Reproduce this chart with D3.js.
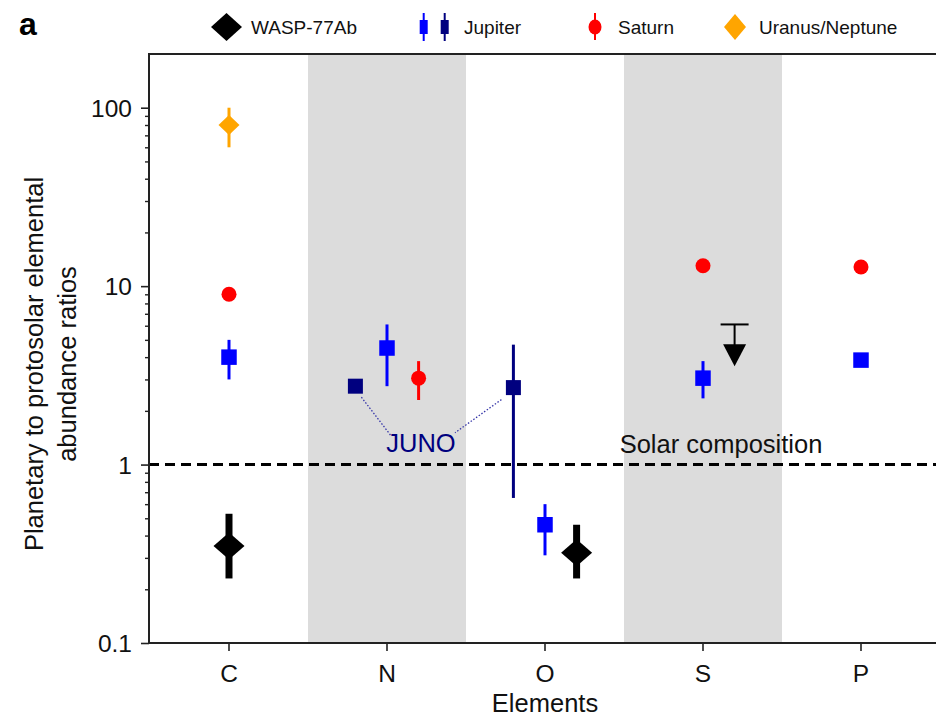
<!DOCTYPE html>
<html>
<head>
<meta charset="utf-8">
<script src="https://cdn.jsdelivr.net/npm/d3@7"></script>
<style>
  body { margin: 0; background: #fff; }
  svg { display: block; font-family: "Liberation Sans", Arial, Helvetica, sans-serif; }
</style>
</head>
<body>
<svg id="chart" width="936" height="716"></svg>
<script>
// ---- data ----
const elements = ["C", "N", "O", "S", "P"];
const shadedElements = ["N", "S"];
const yTickValues = [0.1, 1, 10, 100];
const yTickLabels = ["0.1", "1", "10", "100"];
const solarValue = 1;

// planetary / protosolar ratios: value, lower and upper bound
const wasp77Ab = [
  { el: "C", v: 0.35, lo: 0.23, hi: 0.53 },
  { el: "O", v: 0.32, lo: 0.23, hi: 0.46 }
];
const wasp77AbLimit = [
  { el: "S", v: 4.1, hi: 6.1 }
];
const jupiter = [
  { el: "C", v: 4.0, lo: 3.0, hi: 5.0 },
  { el: "N", v: 4.5, lo: 2.75, hi: 6.1 },
  { el: "O", v: 0.46, lo: 0.31, hi: 0.60 },
  { el: "S", v: 3.05, lo: 2.35, hi: 3.8 },
  { el: "P", v: 3.85 }
];
const jupiterJuno = [
  { el: "N", v: 2.75 },
  { el: "O", v: 2.7, lo: 0.65, hi: 4.7 }
];
const saturn = [
  { el: "C", v: 9.0 },
  { el: "N", v: 3.05, lo: 2.3, hi: 3.8 },
  { el: "S", v: 13 },
  { el: "P", v: 12.8 }
];
const uranusNeptune = [
  { el: "C", v: 80, lo: 60, hi: 100 }
];

// ---- layout ----
const W = 936, H = 716;
const plot = { left: 149, right: 936, top: 54, bottom: 643 };

// side-by-side placement of points sharing one element
const dodgeSlots = {
  "juno:N": -1, "juno:O": -1,
  "saturn:N": 1,
  "wasp:O": 1, "waspLimit:S": 1
};
const slot = (series, el) => dodgeSlots[series + ":" + el] || 0;

const colors = {
  wasp: "#000000",
  jupiter: "#0000ff",
  juno: "#00007f",
  saturn: "#ff0000",
  uranus: "#ffa500",
  band: "#dcdcdc",
  axis: "#222222",
  text: "#111111"
};

const svg = d3.select("#chart");

const x = d3.scaleBand().domain(elements).range([150, 940]).paddingInner(0).paddingOuter(0);
const bw = x.bandwidth();
const xc = (el, series) => x(el) + bw / 2 + slot(series, el) * bw * 0.2;

const y = d3.scaleLog().domain([0.1, 200]).range([plot.bottom, plot.top]);

// shaded element bands
svg.append("g").selectAll("rect")
  .data(shadedElements)
  .join("rect")
  .attr("x", d => x(d))
  .attr("width", bw)
  .attr("y", plot.top)
  .attr("height", plot.bottom - plot.top)
  .attr("fill", colors.band);

// solar composition reference line
svg.append("line")
  .attr("x1", plot.left).attr("x2", plot.right)
  .attr("y1", y(solarValue)).attr("y2", y(solarValue))
  .attr("stroke", "#000").attr("stroke-width", 3)
  .attr("stroke-dasharray", "10,6");

svg.append("text")
  .attr("x", x("S") + bw / 2 + 18)
  .attr("y", y(solarValue) - 12)
  .attr("text-anchor", "middle")
  .attr("font-size", 25.5)
  .attr("fill", colors.text)
  .text("Solar composition");

// axes
const axisG = svg.append("g");

// minor y ticks
const minorTicks = y.ticks().filter(t => !yTickValues.includes(t) && t < 200);
axisG.append("g")
  .attr("transform", `translate(${plot.left},0)`)
  .call(d3.axisLeft(y).tickValues(minorTicks).tickSize(4).tickFormat(""))
  .call(g => g.select(".domain").remove())
  .call(g => g.selectAll(".tick line").attr("stroke", colors.axis).attr("stroke-width", 1.4));

// major y ticks
axisG.append("g")
  .attr("transform", `translate(${plot.left},0)`)
  .call(d3.axisLeft(y).tickValues(yTickValues).tickSize(8).tickPadding(9)
    .tickFormat((d, i) => yTickLabels[i]))
  .call(g => g.select(".domain").remove())
  .call(g => g.selectAll(".tick line").attr("stroke", colors.axis).attr("stroke-width", 1.6))
  .call(g => g.selectAll(".tick text")
    .attr("font-size", 24.5).attr("fill", colors.text)
    .attr("font-family", "\"Liberation Sans\", Arial, sans-serif")
    .attr("dy", "0.36em"));

// x ticks
axisG.append("g")
  .attr("transform", `translate(0,${plot.bottom})`)
  .call(d3.axisBottom(x).tickSize(8).tickPadding(14))
  .call(g => g.select(".domain").remove())
  .call(g => g.selectAll(".tick line").attr("stroke", colors.axis).attr("stroke-width", 1.6))
  .call(g => g.selectAll(".tick text")
    .attr("font-size", 24.5).attr("fill", colors.text)
    .attr("font-family", "\"Liberation Sans\", Arial, sans-serif"));

// frame lines
axisG.append("line")
  .attr("x1", plot.left).attr("x2", plot.left)
  .attr("y1", plot.top).attr("y2", plot.bottom)
  .attr("stroke", colors.axis).attr("stroke-width", 2);
axisG.append("line")
  .attr("x1", plot.left - 1).attr("x2", plot.right)
  .attr("y1", plot.bottom).attr("y2", plot.bottom)
  .attr("stroke", colors.axis).attr("stroke-width", 2);
axisG.append("line")
  .attr("x1", plot.left - 1).attr("x2", plot.right)
  .attr("y1", plot.top).attr("y2", plot.top)
  .attr("stroke", colors.axis).attr("stroke-width", 2);

// axis titles
svg.append("text")
  .attr("transform", `translate(${x("O") + bw / 2},712)`)
  .attr("text-anchor", "middle")
  .attr("font-size", 25.5)
  .attr("fill", colors.text)
  .text("Elements");

const yTitle = svg.append("text")
  .attr("transform", "translate(43,364) rotate(-90)")
  .attr("text-anchor", "middle")
  .attr("font-size", 25.5)
  .attr("fill", colors.text);
yTitle.append("tspan").attr("x", 0).attr("dy", 0).text("Planetary to protosolar elemental");
yTitle.append("tspan").attr("x", 0).attr("dy", 33).text("abundance ratios");

// JUNO annotation
const junoLabelX = x("N") + bw / 2 + 34;
const junoLabelY = y(1.18);
const marks = svg.append("g");
const dotted = marks.append("g")
  .attr("stroke", "#3535a8").attr("stroke-width", 1.3)
  .attr("stroke-dasharray", "1.5,1.8").attr("fill", "none");
dotted.append("line")
  .attr("x1", xc("N", "juno") + 6).attr("y1", y(jupiterJuno[0].v) + 11)
  .attr("x2", junoLabelX - 30).attr("y2", junoLabelY - 16);
dotted.append("line")
  .attr("x1", xc("O", "juno") - 12).attr("y1", y(jupiterJuno[1].v) + 12)
  .attr("x2", junoLabelX + 34).attr("y2", junoLabelY - 19);
marks.append("text")
  .attr("x", junoLabelX).attr("y", junoLabelY)
  .attr("text-anchor", "middle")
  .attr("font-size", 25.5)
  .attr("fill", colors.juno)
  .text("JUNO");

// ---- marker helpers ----
function errorBars(g, data, series, color, width) {
  g.selectAll(null)
    .data(data.filter(d => d.lo !== undefined))
    .join("line")
    .attr("x1", d => xc(d.el, series)).attr("x2", d => xc(d.el, series))
    .attr("y1", d => y(d.lo)).attr("y2", d => y(d.hi))
    .attr("stroke", color).attr("stroke-width", width);
}
function squares(g, data, series, color, size) {
  g.selectAll(null).data(data).join("rect")
    .attr("x", d => xc(d.el, series) - size / 2)
    .attr("y", d => y(d.v) - size / 2)
    .attr("width", size).attr("height", size)
    .attr("fill", color);
}
function circles(g, data, series, color, r) {
  g.selectAll(null).data(data).join("circle")
    .attr("cx", d => xc(d.el, series))
    .attr("cy", d => y(d.v))
    .attr("r", r).attr("fill", color);
}
function diamonds(g, data, series, color, w, h) {
  g.selectAll(null).data(data).join("path")
    .attr("d", d => {
      const cx = xc(d.el, series), cy = y(d.v);
      return `M${cx},${cy - h / 2}L${cx + w / 2},${cy}L${cx},${cy + h / 2}L${cx - w / 2},${cy}Z`;
    })
    .attr("fill", color);
}

// Uranus / Neptune
errorBars(marks, uranusNeptune, "uranus", colors.uranus, 3);
diamonds(marks, uranusNeptune, "uranus", colors.uranus, 21, 20);

// Saturn
errorBars(marks, saturn, "saturn", colors.saturn, 3);
circles(marks, saturn, "saturn", colors.saturn, 7.5);

// Jupiter
errorBars(marks, jupiter, "jupiter", colors.jupiter, 3);
squares(marks, jupiter, "jupiter", colors.jupiter, 15.5);

// Jupiter (Juno)
errorBars(marks, jupiterJuno, "juno", colors.juno, 3);
squares(marks, jupiterJuno, "juno", colors.juno, 15);

// WASP-77Ab
errorBars(marks, wasp77Ab, "wasp", colors.wasp, 7);
diamonds(marks, wasp77Ab, "wasp", colors.wasp, 31, 27);

// WASP-77Ab upper limit
wasp77AbLimit.forEach(d => {
  const cx = xc(d.el, "waspLimit");
  const top = y(d.hi), mid = y(d.v);
  marks.append("line")
    .attr("x1", cx - 14).attr("x2", cx + 14)
    .attr("y1", top).attr("y2", top)
    .attr("stroke", "#000").attr("stroke-width", 2);
  marks.append("line")
    .attr("x1", cx).attr("x2", cx)
    .attr("y1", top).attr("y2", mid - 10)
    .attr("stroke", "#000").attr("stroke-width", 2);
  marks.append("path")
    .attr("d", `M${cx - 11.5},${mid - 11}L${cx + 11.5},${mid - 11}L${cx},${mid + 11}Z`)
    .attr("fill", "#000");
});

// ---- legend ----
const legend = svg.append("g");
const ly = 27;
const lfs = 19;

legend.append("path")
  .attr("d", `M226.5,${ly - 14}L242,${ly}L226.5,${ly + 14}L211,${ly}Z`)
  .attr("fill", colors.wasp);
legend.append("text").attr("x", 251).attr("y", ly + 7).attr("font-size", lfs)
  .attr("fill", colors.text).text("WASP-77Ab");

[[423.7, colors.jupiter], [444.7, colors.juno]].forEach(([cx, c]) => {
  legend.append("line").attr("x1", cx).attr("x2", cx).attr("y1", ly - 14).attr("y2", ly + 14)
    .attr("stroke", c).attr("stroke-width", 2);
  legend.append("rect").attr("x", cx - 4).attr("y", ly - 7).attr("width", 8).attr("height", 14)
    .attr("fill", c);
});
legend.append("text").attr("x", 464).attr("y", ly + 7).attr("font-size", lfs)
  .attr("fill", colors.text).text("Jupiter");

legend.append("line").attr("x1", 595).attr("x2", 595).attr("y1", ly - 14).attr("y2", ly + 13)
  .attr("stroke", colors.saturn).attr("stroke-width", 2);
legend.append("ellipse").attr("cx", 595).attr("cy", ly).attr("rx", 6.5).attr("ry", 7.5)
  .attr("fill", colors.saturn);
legend.append("text").attr("x", 618).attr("y", ly + 7).attr("font-size", lfs)
  .attr("fill", colors.text).text("Saturn");

legend.append("path")
  .attr("d", `M735,${ly - 13}L746,${ly}L735,${ly + 13}L724,${ly}Z`)
  .attr("fill", colors.uranus);
legend.append("text").attr("x", 759).attr("y", ly + 7).attr("font-size", lfs)
  .attr("fill", colors.text).text("Uranus/Neptune");

// panel letter
svg.append("text").attr("x", 19).attr("y", 35)
  .attr("font-size", 32).attr("font-weight", "bold")
  .attr("font-family", "Arial, \"Liberation Sans\", sans-serif")
  .attr("fill", "#000").text("a");
</script>
</body>
</html>
